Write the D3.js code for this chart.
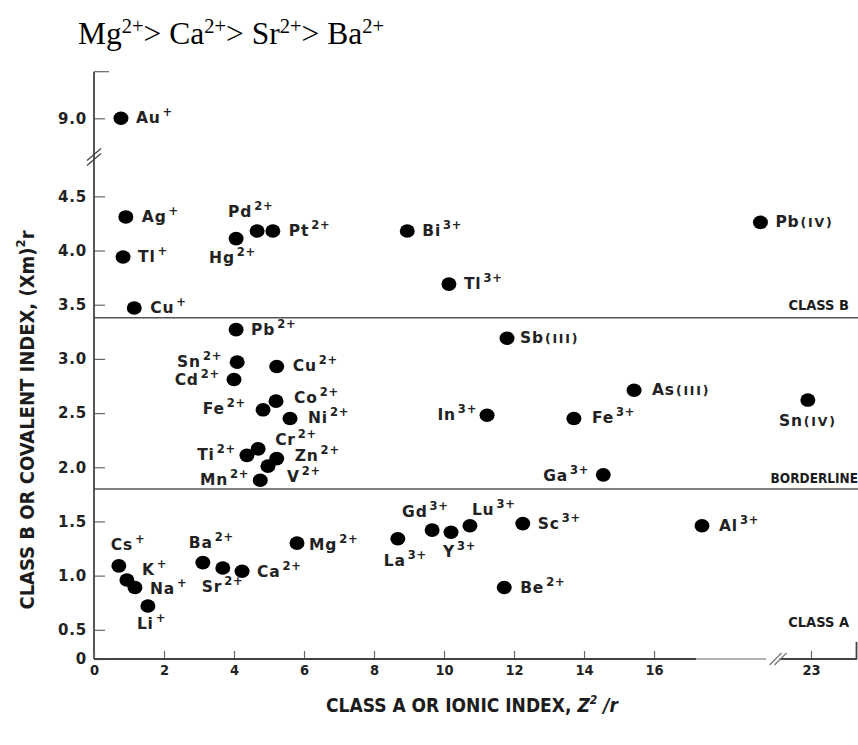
<!DOCTYPE html>
<html><head><meta charset="utf-8">
<script src="https://cdn.jsdelivr.net/npm/d3@7/dist/d3.min.js"></script>
<style>body{margin:0;background:#fff}</style>
</head><body>
<svg id="chart" width="858" height="745"></svg>
<script>
// ---------- data ----------
const ionSymbols = ["Au","Ag","Tl","Cu","Hg","Pd","Pt","Bi","Tl","Pb",
  "Pb","Sn","Cd","Cu","Fe","Co","Ni","Ti","Cr","Zn","V","Mn",
  "Sb","As","In","Fe","Sn","Ga",
  "La","Gd","Y","Lu","Sc","Al","Be",
  "Cs","K","Na","Li","Ba","Sr","Ca","Mg"];
const ionCharges = ["+","+","+","+","2+","2+","2+","3+","3+","(IV)",
  "2+","2+","2+","2+","2+","2+","2+","2+","2+","2+","2+","2+",
  "(III)","(III)","3+","3+","(IV)","3+",
  "3+","3+","3+","3+","3+","3+","2+",
  "+","+","+","+","2+","2+","2+","2+"];
const ionicIndex = [0.77,0.91,0.83,1.15,4.06,4.66,5.11,8.95,10.14,19.04,
  4.06,4.09,4.00,5.22,4.83,5.20,5.60,4.37,4.69,5.22,4.97,4.75,
  11.80,15.43,11.23,13.71,22.91,14.55,
  8.68,9.66,10.20,10.74,12.25,17.37,11.72,
  0.71,0.94,1.17,1.54,3.11,3.68,4.23,5.80];
const covalentIndex = [9.0,4.31,3.94,3.47,4.11,4.18,4.18,4.18,3.69,4.26,
  3.27,2.97,2.81,2.93,2.53,2.61,2.45,2.11,2.17,2.08,2.01,1.88,
  3.19,2.71,2.48,2.45,2.62,1.93,
  1.34,1.42,1.40,1.46,1.48,1.46,0.89,
  1.09,0.96,0.89,0.72,1.12,1.07,1.04,1.30];
const xTicks = [0,2,4,6,8,10,12,14,16,23];
const yTicks = [0,0.5,1.0,1.5,2.0,2.5,3.0,3.5,4.0,4.5,9.0];
const boundaryValues = [3.38, 1.80];
const classLabels = ["CLASS B","BORDERLINE","CLASS A"];
const classLabelValues = [3.5, 1.9, 0.57];
const headline = [["Mg","2+"],["Ca","2+"],["Sr","2+"],["Ba","2+"]];

// ---------- label layout (anchor, dx, dy relative to dot) ----------
const labelLayout = [
  ["start",15,5],["start",16,5],["start",15,5],["start",16,5],["start",-27,24],["start",-29,-14],["start",16,5],["start",15,5],["start",15,5],["start",15,5],
  ["start",15,5],["end",-15,5],["end",-14,6],["start",16,5],["end",-17,4],["start",18,2],["start",18,5],["end",-11,5],["start",17,-4],["start",18,2],["start",19,16],["end",-11,5],
  ["start",13,5],["start",18,5],["end",-10,5],["start",18,5],["middle",0,26],["end",-14,6],
  ["start",-14,27],["start",-30,-13],["start",-8,25],["start",2,-11],["start",15,5],["start",17,5],["start",16,5],
  ["start",-8,-16],["start",15,-5],["start",15,6],["start",-11,23],["start",-14,-15],["start",-21,24],["start",15,6],["start",12,7]
];

// ---------- scales ----------
const x = d3.scaleLinear().domain([0, 19.47, 22, 24.3]).range([94, 775.5, 776, 856.5]);
const y = d3.scaleLinear().domain([0, 0.5, 4.84, 8.62, 9.43]).range([659, 629.8, 159.5, 159.5, 71.7]);

const svg = d3.select("#chart");
const ink = "#1c1c1c";
const axisCol = "#444";
const condensed = "'DejaVu Sans Condensed','DejaVu Sans',sans-serif";

// headline
const ht = svg.append("text").attr("x", 78).attr("y", 44)
  .attr("font-family", "'Liberation Serif','Times New Roman',serif")
  .attr("font-size", 31.5).attr("fill", "#000");
headline.forEach((h, i) => {
  ht.append("tspan").attr("dy", i === 0 ? 0 : 11).text((i ? "> " : "") + h[0]);
  ht.append("tspan").attr("dy", -11).attr("font-size", 20.5).text(h[1]);
});

// boundary lines
svg.selectAll(".bnd").data(boundaryValues).join("line")
  .attr("x1", x(0)).attr("x2", 858)
  .attr("y1", d => y(d)).attr("y2", d => y(d))
  .attr("stroke", "#555").attr("stroke-width", 1.6);

// class labels
svg.selectAll(".cls").data(classLabels).join("text")
  .attr("x", (d, i) => i === 1 ? 858 : 849)
  .attr("y", (d, i) => y(classLabelValues[i]) + 5)
  .attr("text-anchor", "end")
  .attr("font-family", condensed).attr("font-stretch", "condensed")
  .attr("font-weight", "bold").attr("font-size", (d, i) => i === 1 ? 13.5 : 14.5).attr("fill", ink)
  .text(d => d);

// y axis
const yAxis = d3.axisLeft(y).tickValues(yTicks).tickSizeInner(-11).tickSizeOuter(0).tickPadding(7)
  .tickFormat(d => d === 0 ? "0" : d3.format(".1f")(d));
const gy = svg.append("g").attr("transform", `translate(${x(0)},0)`).call(yAxis);
gy.select(".domain").remove();
gy.selectAll(".tick line").attr("stroke", "#666").attr("stroke-width", 1.2);
gy.selectAll(".tick text").attr("font-family", "'DejaVu Sans',sans-serif")
  .attr("font-weight", "bold").attr("font-size", 15).attr("letter-spacing", 0.8).attr("fill", "#222");

// y axis line with break
svg.append("line").attr("x1", x(0)).attr("x2", x(0)).attr("y1", y(9.43)).attr("y2", y(0))
  .attr("stroke", axisCol).attr("stroke-width", 1.8);
svg.append("line").attr("x1", x(0)).attr("x2", x(0) + 15).attr("y1", y(9.43)).attr("y2", y(9.43))
  .attr("stroke", "#666").attr("stroke-width", 1.2);
[0, 5].forEach(o => svg.append("line")
  .attr("x1", x(0) - 7).attr("y1", y(4.84) + 6 - o)
  .attr("x2", x(0) + 7).attr("y2", y(4.84) - 6 - o)
  .attr("stroke", axisCol).attr("stroke-width", 1.3));

// x axis
const xAxis = d3.axisBottom(x).tickValues(xTicks).tickSizeInner(-8).tickSizeOuter(0).tickPadding(6);
const gx = svg.append("g").attr("transform", `translate(0,${y(0)})`).call(xAxis);
gx.select(".domain").remove();
gx.selectAll(".tick line").attr("stroke", "#666").attr("stroke-width", 1.2);
gx.selectAll(".tick text").attr("font-family", condensed).attr("font-stretch", "condensed")
  .attr("font-weight", "bold").attr("font-size", 14.5).attr("fill", "#222");

svg.append("line").attr("x1", x(0)).attr("x2", x(17.2)).attr("y1", y(0)).attr("y2", y(0))
  .attr("stroke", axisCol).attr("stroke-width", 1.8);
svg.append("line").attr("x1", x(17.2)).attr("x2", x(19.2)).attr("y1", y(0)).attr("y2", y(0))
  .attr("stroke", "#999").attr("stroke-width", 1.6);
svg.append("line").attr("x1", x(22.1)).attr("x2", 857).attr("y1", y(0)).attr("y2", y(0))
  .attr("stroke", axisCol).attr("stroke-width", 1.8);
[0, 5].forEach(o => svg.append("line")
  .attr("x1", x(19.47) - 6 + o).attr("y1", y(0) + 6)
  .attr("x2", x(19.47) + 6 + o).attr("y2", y(0) - 6)
  .attr("stroke", "#777").attr("stroke-width", 1.3));
svg.append("line").attr("x1", 856.5).attr("x2", 856.5).attr("y1", y(0)).attr("y2", y(0) - 17)
  .attr("stroke", axisCol).attr("stroke-width", 1.8);

// axis titles
const xt = svg.append("text").attr("x", 472).attr("y", 712).attr("text-anchor", "middle")
  .attr("font-family", condensed).attr("font-stretch", "condensed")
  .attr("font-weight", "bold").attr("font-size", 19).attr("fill", ink);
xt.append("tspan").text("CLASS A OR IONIC INDEX, ");
xt.append("tspan").attr("font-style", "italic").text("Z");
xt.append("tspan").attr("dy", -8).attr("font-size", 12).attr("font-style", "italic").text("2");
xt.append("tspan").attr("dy", 8).attr("font-style", "italic").text(" /r");

const yt = svg.append("text").attr("transform", "translate(34,420) rotate(-90)")
  .attr("text-anchor", "middle")
  .attr("font-family", condensed).attr("font-stretch", "condensed")
  .attr("font-weight", "bold").attr("font-size", 20).attr("fill", ink);
yt.append("tspan").text("CLASS B OR COVALENT INDEX, (Xm)");
yt.append("tspan").attr("dy", -9).attr("font-size", 13).text("2");
yt.append("tspan").attr("dy", 9).text("r");

// points
const idx = d3.range(ionSymbols.length);
svg.selectAll(".dot").data(idx).join("ellipse")
  .attr("cx", i => x(ionicIndex[i])).attr("cy", i => y(covalentIndex[i]))
  .attr("rx", 7.5).attr("ry", 6.8).attr("fill", "#000");

// labels
svg.selectAll(".lbl").data(idx).join("text")
  .attr("x", i => x(ionicIndex[i]) + labelLayout[i][1])
  .attr("y", i => y(covalentIndex[i]) + labelLayout[i][2])
  .attr("text-anchor", i => labelLayout[i][0])
  .attr("font-family", "'DejaVu Sans',sans-serif")
  .attr("font-weight", "bold").attr("font-size", 15.5).attr("letter-spacing", 0.8)
  .attr("fill", "#222")
  .each(function(i){
    const t = d3.select(this);
    t.append("tspan").text(ionSymbols[i]);
    const c = ionCharges[i];
    if (c.startsWith("(")) {
      t.append("tspan").attr("font-size", 12.5).attr("letter-spacing", 1.8).attr("dx", 1).text(c);
    } else {
      t.append("tspan").attr("font-size", 11.5).attr("dx", 2).attr("dy", -7).text(c);
    }
  });
</script>
</body></html>
